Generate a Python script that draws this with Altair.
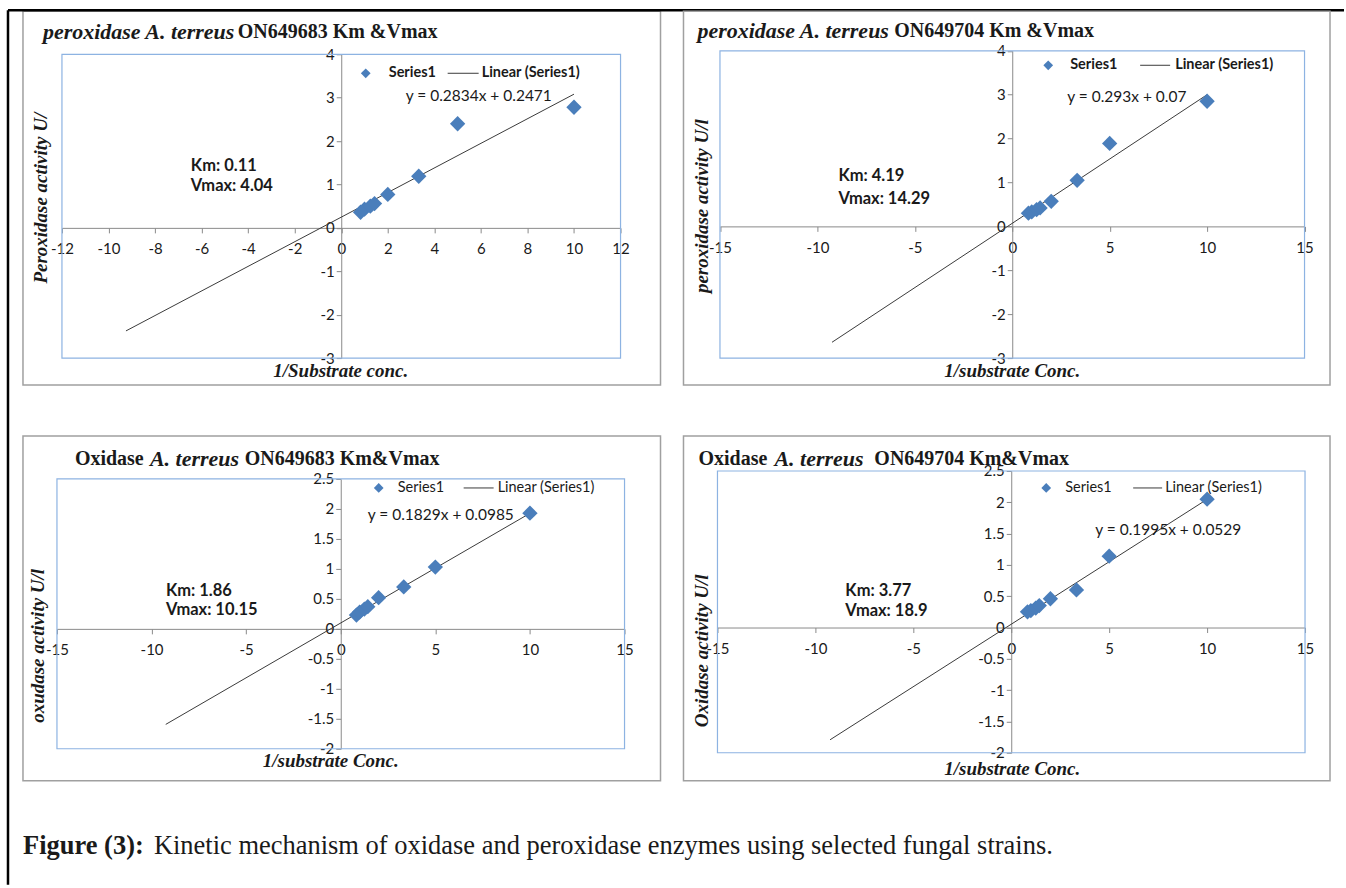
import altair as alt
import pandas as pd

# ---------------- data ----------------
x_vals = [0.83, 1.0, 1.25, 1.43, 2.0, 3.33, 5.0, 10.0]
y_perox_683 = [0.36, 0.43, 0.50, 0.56, 0.77, 1.19, 2.40, 2.78]
y_perox_704 = [0.30, 0.33, 0.38, 0.42, 0.57, 1.05, 1.89, 2.85]
y_oxid_683 = [0.23, 0.28, 0.33, 0.37, 0.52, 0.70, 1.03, 1.93]
y_oxid_704 = [0.25, 0.27, 0.31, 0.35, 0.46, 0.60, 1.14, 2.05]
series = [y_perox_683, y_perox_704, y_oxid_683, y_oxid_704]

slopes = [0.2834, 0.293, 0.1829, 0.1995]
intercepts = [0.2471, 0.07, 0.0985, 0.0529]
trend_x = [-9.25, 10.0]

equations = ["y = 0.2834x + 0.2471", "y = 0.293x + 0.07",
             "y = 0.1829x + 0.0985", "y = 0.1995x + 0.0529"]
km_labels = ["Km: 0.11", "Km: 4.19", "Km: 1.86", "Km: 3.77"]
vmax_labels = ["Vmax: 4.04", "Vmax: 14.29", "Vmax: 10.15", "Vmax: 18.9"]

x_ticks_12 = [-12, -10, -8, -6, -4, -2, 0, 2, 4, 6, 8, 10, 12]
x_ticks_15 = [-15, -10, -5, 0, 5, 10, 15]
y_ticks_4 = [-3, -2, -1, 0, 1, 2, 3, 4]
y_ticks_25 = [-2, -1.5, -1, -0.5, 0, 0.5, 1, 1.5, 2, 2.5]

y_titles = ["Peroxidase activity U/", "peroxidase activity U/l",
            "oxudase activity U/l", "Oxidase activity U/l"]
x_titles = ["1/Substrate conc.", "1/substrate Conc.",
            "1/substrate Conc.", "1/substrate Conc."]
title_parts = [
    [("peroxidase A. terreus", "italic"), ("ON649683 Km &Vmax", "normal")],
    [("peroxidase A. terreus", "italic"), ("ON649704 Km &Vmax", "normal")],
    [("Oxidase", "normal"), ("A. terreus", "italic"), ("ON649683 Km&Vmax", "normal")],
    [("Oxidase", "normal"), ("A. terreus", "italic"), ("ON649704 Km&Vmax", "normal")],
]
legend_series = "Series1"
legend_trend = "Linear (Series1)"
caption_bold = "Figure (3):"
caption_rest = "Kinetic mechanism of oxidase and peroxidase enzymes using selected fungal strains."

# ---------------- layout / style ----------------
BLUE = "#4a7ebb"
AXIS_GRAY = "#8a8a8a"
TICK_FONT = "Lato"
SERIF = "Liberation Serif"

layouts = [
    dict(W=638, H=374, xdom=[-12, 12], xr=[39, 598], ydom=[-3, 4], yr=[347, 43],
         xt=x_ticks_12, yt=y_ticks_4, title_x=[20, 215], title_y=21,
         leg=dict(d=(343, 62), s=366, l=(425, 456), t=459, eq=(383, 85), bold=True),
         km=(168, 155, 175), ytitle=(18, 187), xtitle=(318, 360)),
    dict(W=647, H=374, xdom=[-15, 15], xr=[36.5, 621.5], ydom=[-3, 4], yr=[347, 39.5],
         xt=x_ticks_15, yt=y_ticks_4, title_x=[14, 211], title_y=20,
         leg=dict(d=(365, 54), s=387, l=(457, 487), t=492, eq=(384, 86), bold=True),
         km=(155, 165, 188), ytitle=(19, 195), xtitle=(329, 360)),
    dict(W=638, H=345, xdom=[-15, 15], xr=[34, 602], ydom=[-2, 2.5], yr=[313, 43],
         xt=x_ticks_15, yt=y_ticks_25, title_x=[52, 127, 222], title_y=23,
         leg=dict(d=(356, 52), s=375, l=(441, 471), t=475, eq=(345, 79), bold=False),
         km=(143, 155, 174), ytitle=(15, 210), xtitle=(308, 325)),
    dict(W=647, H=345, xdom=[-15, 15], xr=[34, 622], ydom=[-2, 2.5], yr=[317, 35],
         xt=x_ticks_15, yt=y_ticks_25, title_x=[15, 91, 191], title_y=23,
         leg=dict(d=(363, 52), s=382, l=(450, 479), t=482, eq=(412, 94), bold=False),
         km=(162, 155, 175), ytitle=(19, 215), xtitle=(329, 333)),
]


def px(v, dom, rng):
    return rng[0] + (v - dom[0]) / (dom[1] - dom[0]) * (rng[1] - rng[0])


def text_layer(txt, x, y, size, font, weight="normal", style="normal",
               align="left", angle=0, color="#1a1a1a"):
    return alt.Chart(pd.DataFrame({"t": [txt]})).mark_text(
        align=align, baseline="middle", fontSize=size, font=font,
        fontWeight=weight, fontStyle=style, angle=angle, color=color
    ).encode(x=alt.value(x), y=alt.value(y), text="t:N")


def panel(i, extra=None):
    L = layouts[i]
    xs = alt.Scale(domain=L["xdom"], range=L["xr"], nice=False, zero=False)
    ys = alt.Scale(domain=L["ydom"], range=L["yr"], nice=False, zero=False)
    x0 = px(0, L["xdom"], L["xr"])
    y0 = px(0, L["ydom"], L["yr"])

    ax_common = dict(domainColor=AXIS_GRAY, tickColor=AXIS_GRAY, tickSize=5,
                     labelFont=TICK_FONT, labelFontSize=15, labelColor="#1a1a1a",
                     title=None, grid=False, labelFlush=False, labelOverlap=False,
                     labelBound=False, labelExpr="'' + datum.value",
                     domainWidth=1, tickWidth=1)
    xaxis = alt.Axis(values=L["xt"], orient="bottom", offset=y0 - L["H"],
                     labelPadding=9, **ax_common)
    yaxis = alt.Axis(values=L["yt"], orient="left", offset=-x0,
                     labelPadding=2, **ax_common)

    def X(f):
        return alt.X(f, type="quantitative", scale=xs, axis=xaxis)

    def Y(f):
        return alt.Y(f, type="quantitative", scale=ys, axis=yaxis)

    frame = alt.Chart(pd.DataFrame({
        "x": [L["xdom"][0]], "x1": [L["xdom"][1]],
        "y": [L["ydom"][0]], "y1": [L["ydom"][1]]})).mark_rect(
        fill="transparent", stroke="#8db3e2", strokeWidth=1.2
    ).encode(x=X("x"), x2="x1", y=Y("y"), y2="y1")

    tdf = pd.DataFrame({"x": trend_x,
                        "y": [slopes[i] * v + intercepts[i] for v in trend_x]})
    trend = alt.Chart(tdf).mark_line(color="#3a3a3a", strokeWidth=1).encode(
        x=X("x"), y=Y("y"))

    pdf = pd.DataFrame({"x": x_vals, "y": series[i]})
    pts = alt.Chart(pdf).mark_point(shape="diamond", filled=True, size=235,
                                    color=BLUE, opacity=1).encode(x=X("x"), y=Y("y"))

    layers = [frame, trend, pts]

    # title
    for (txt, st), tx in zip(title_parts[i], L["title_x"]):
        size = 22 if st == "italic" else 20
        layers.append(text_layer(txt, tx, L["title_y"], size, SERIF, "bold", st))

    # legend
    lg = L["leg"]
    lw = "bold" if lg["bold"] else "normal"
    layers.append(alt.Chart(pd.DataFrame({"t": [legend_series]})).mark_point(
        shape="diamond", filled=True, size=95, color=BLUE, opacity=1).encode(
        x=alt.value(lg["d"][0]), y=alt.value(lg["d"][1])))
    layers.append(text_layer(legend_series, lg["s"], lg["d"][1], 14.5, TICK_FONT, lw))
    layers.append(alt.Chart(pd.DataFrame({"t": [legend_trend]})).mark_rule(
        color="#3a3a3a", strokeWidth=1).encode(
        x=alt.value(lg["l"][0]), x2=alt.value(lg["l"][1]), y=alt.value(lg["d"][1])))
    layers.append(text_layer(legend_trend, lg["t"], lg["d"][1], 14.5, TICK_FONT, lw))
    layers.append(text_layer(equations[i], lg["eq"][0], lg["eq"][1], 15.5, TICK_FONT))

    # Km / Vmax
    kx, ky1, ky2 = L["km"]
    layers.append(text_layer(km_labels[i], kx, ky1, 16.5, TICK_FONT, "bold"))
    layers.append(text_layer(vmax_labels[i], kx, ky2, 16.5, TICK_FONT, "bold"))

    # axis titles
    layers.append(text_layer(y_titles[i], L["ytitle"][0], L["ytitle"][1], 19, SERIF,
                             "bold", "italic", align="center", angle=270))
    layers.append(text_layer(x_titles[i], L["xtitle"][0], L["xtitle"][1], 19, SERIF,
                             "bold", "italic", align="center"))

    if extra:
        layers.extend(extra)

    return alt.layer(*layers).properties(width=L["W"], height=L["H"])


# outer page border lines (drawn relative to first panel)
border = [
    alt.Chart(pd.DataFrame({"t": ["top"]})).mark_rule(color="black", strokeWidth=2.5).encode(
        x=alt.value(-15), x2=alt.value(1322), y=alt.value(-1)),
    alt.Chart(pd.DataFrame({"t": ["left"]})).mark_rule(color="black", strokeWidth=2.5).encode(
        x=alt.value(-15), y=alt.value(-1), y2=alt.value(874)),
]

p1 = panel(0, border)
p2 = panel(1)
p3 = panel(2)
p4 = panel(3)

caption = alt.layer(
    text_layer(caption_bold, 0, 14, 26.5, SERIF, "bold"),
    text_layer(caption_rest, 131, 14, 26.5, SERIF),
).properties(width=638, height=40, view=alt.ViewBackground(stroke="transparent"))

chart = alt.concat(p1, p2, p3, p4, caption, columns=2,
                   spacing={"row": 51, "column": 23}, bounds="flush").properties(
    padding={"left": 6, "top": 8, "right": 0, "bottom": 0},
    background="white",
).configure_view(stroke="#a0a0a0", strokeWidth=1.5).configure_axis(grid=False)

chart.save("out.html", embed_options={"renderer": "svg", "actions": False})
